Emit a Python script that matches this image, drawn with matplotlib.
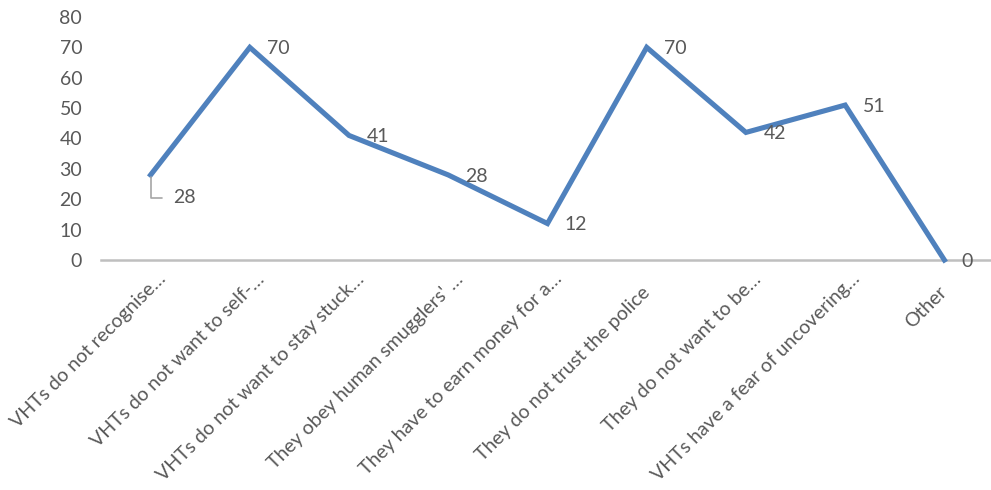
import matplotlib
matplotlib.use("Agg")
import matplotlib.pyplot as plt
from matplotlib.transforms import ScaledTranslation

categories = [
    "VHTs do not recognise…",
    "VHTs do not want to self-…",
    "VHTs do not want to stay stuck…",
    "They obey human smugglers' …",
    "They have to earn money for a…",
    "They do not trust the police",
    "They do not want to be…",
    "VHTs have a fear of uncovering…",
    "Other",
]
values = [28, 70, 41, 28, 12, 70, 42, 51, 0]

plt.rcParams['font.family'] = ['Lato', 'DejaVu Sans']
grey = '#595959'
fs = 14

fig = plt.figure(figsize=(9.91, 4.9), dpi=100)
ax = fig.add_axes([0.1019, 0.4694, 0.9011, 0.4959])

x = list(range(len(values)))
ax.plot(x, values, color='#4F81BD', lw=3.7, solid_joinstyle='miter', clip_on=False, zorder=3)

ax.set_xlim(-0.5, len(values) - 0.5)
ax.set_ylim(0, 80)
ax.set_yticks(range(0, 81, 10))
for s in ['top', 'right', 'left']:
    ax.spines[s].set_visible(False)
ax.spines['bottom'].set_color('#BFBFBF')
ax.spines['bottom'].set_linewidth(1.8)
ax.tick_params(axis='y', length=0, pad=13.5, labelsize=fs, labelcolor=grey)
ax.tick_params(axis='x', length=0, pad=6, labelsize=fs, labelcolor=grey)

ax.set_xticks(x)
ax.set_xticklabels(categories, rotation=45, ha='right', va='center', rotation_mode='anchor')
# truncated labels sit a bit higher than the full ones
off_cut = ScaledTranslation(12 / 100, -8 / 100, fig.dpi_scale_trans)
off_full = ScaledTranslation(0 / 100, -21 / 100, fig.dpi_scale_trans)
for lbl in ax.get_xticklabels():
    off = off_cut if lbl.get_text().endswith('…') else off_full
    lbl.set_transform(lbl.get_transform() + off)

# data labels
for i, v in enumerate(values):
    if i == 0:
        ax.annotate(str(v), xy=(i, v), xytext=(16, -16.5), textcoords='offset points',
                    ha='left', va='center', fontsize=fs, color=grey,
                    arrowprops=dict(arrowstyle='-', color='#A6A6A6', lw=1.2,
                                    shrinkA=6, shrinkB=1.5,
                                    connectionstyle='angle,angleA=0,angleB=90,rad=0'))
    else:
        ax.annotate(str(v), xy=(i, v), xytext=(12.5, -1), textcoords='offset points',
                    ha='left', va='center', fontsize=fs, color=grey, zorder=4)

fig.savefig('out.png', dpi=100)
